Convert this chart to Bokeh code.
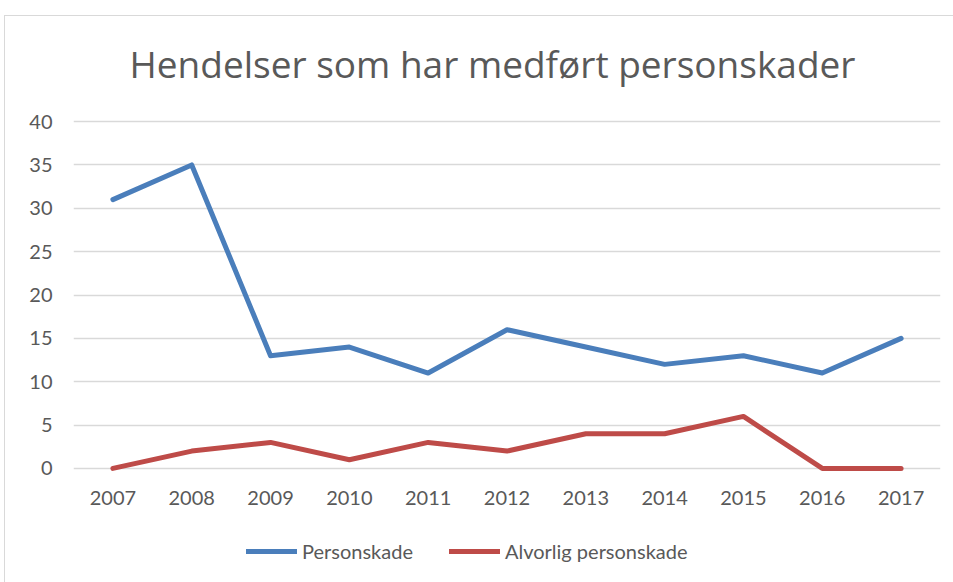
from bokeh.plotting import figure
from bokeh.models import Legend, LegendItem, Range1d, FixedTicker
from bokeh.layouts import column
from bokeh.embed import file_html
from bokeh.resources import INLINE

years = [2007, 2008, 2009, 2010, 2011, 2012, 2013, 2014, 2015, 2016, 2017]
personskade = [31, 35, 13, 14, 11, 16, 14, 12, 13, 11, 15]
alvorlig = [0, 2, 3, 1, 3, 2, 4, 4, 6, 0, 0]
y_ticks = [0, 5, 10, 15, 20, 25, 30, 35, 40]
series_names = ["Personskade", "Alvorlig personskade"]
series_colors = ["#4a7ebb", "#be4b48"]

FONT = "Lato"
GREY = "#595959"
BORDER = "#d9d9d9"
LW = 5

p = figure(width=953, height=530, output_backend="svg", toolbar_location=None,
           x_range=Range1d(2006.5, 2017.5), y_range=Range1d(-0.7, 40.7),
           min_border_left=73, min_border_right=13, min_border_top=115,
           min_border_bottom=56, title="Hendelser som har medført personskader")

p.title.text_font = "Open Sans"
p.title.text_font_size = "37px"
p.title.text_font_style = "normal"
p.title.text_color = GREY
p.title.align = "left"
p.title.offset = 56
p.title.standoff = 53

p.outline_line_color = None
p.background_fill_color = "white"
p.border_fill_alpha = 0
p.styles = {
    "background": f"linear-gradient({BORDER},{BORDER}) 4px 15px / 1px 100% no-repeat, "
                  f"linear-gradient({BORDER},{BORDER}) 4px 15px / 100% 1px no-repeat, white"
}

p.xgrid.grid_line_color = None
p.ygrid.grid_line_color = BORDER
p.ygrid.grid_line_width = 1.3
p.yaxis.ticker = FixedTicker(ticks=y_ticks)
p.xaxis.ticker = FixedTicker(ticks=years)

for ax in (p.xaxis, p.yaxis):
    ax.axis_line_color = None
    ax.major_tick_line_color = None
    ax.minor_tick_line_color = None
    ax.major_tick_out = 0
    ax.major_tick_in = 0
    ax.major_label_text_font = FONT
    ax.major_label_text_font_size = "20px"
    ax.major_label_text_color = GREY
p.yaxis.major_label_standoff = 21
p.xaxis.major_label_standoff = 16

p.line(years, personskade, line_color=series_colors[0], line_width=LW,
       line_cap="round", line_join="round")
p.line(years, alvorlig, line_color=series_colors[1], line_width=LW,
       line_cap="round", line_join="round")

# Legend strip below the chart
lg = figure(width=953, height=52, output_backend="svg", toolbar_location=None,
            x_range=Range1d(0, 1), y_range=Range1d(0, 1),
            min_border_left=0, min_border_right=0, min_border_top=0, min_border_bottom=0)
lg.axis.visible = False
lg.grid.visible = False
lg.outline_line_color = None
lg.background_fill_alpha = 0
lg.border_fill_alpha = 0
lg.styles = {
    "background": f"linear-gradient({BORDER},{BORDER}) 4px 0px / 1px 100% no-repeat, white"
}

items = []
for name, col in zip(series_names, series_colors):
    r = lg.line([float("nan")], [float("nan")], line_color=col, line_width=LW, line_cap="round")
    items.append(LegendItem(label=name, renderers=[r]))

legend = Legend(items=items, orientation="horizontal", location=(173, 19))
legend.label_text_font = FONT
legend.label_text_font_size = "20px"
legend.label_text_color = GREY
legend.glyph_width = 51
legend.glyph_height = 22
legend.label_height = 22
legend.label_standoff = 5
legend.spacing = 36
legend.padding = 0
legend.margin = 0
legend.border_line_color = None
legend.background_fill_alpha = 0
lg.add_layout(legend, "center")

layout = column(p, lg, spacing=0)
open("out.html", "w").write(file_html(layout, INLINE))
